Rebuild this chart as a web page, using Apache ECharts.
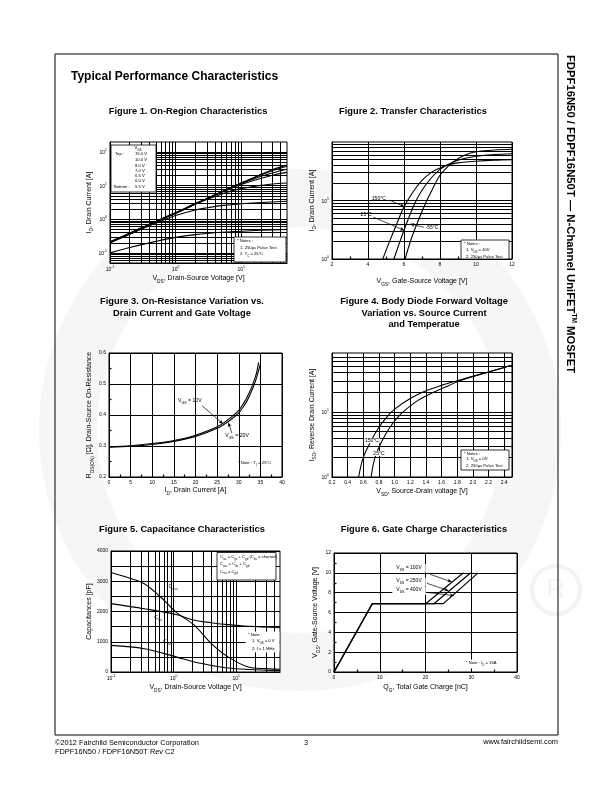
<!DOCTYPE html>
<html><head><meta charset="utf-8">
<script src="https://cdn.jsdelivr.net/npm/echarts@6/dist/echarts.min.js"></script>
<style>html,body{margin:0;padding:0;background:#fff}#c{width:612px;height:792px}</style>
</head><body><div id="c"></div>
<script>
// ---------- DATA ----------
// Figure 1: On-Region Characteristics (VDS [V], ID [A])
const f1_15V = [[0.1,0.21],[0.2,0.38],[0.3,0.55],[0.5,0.85],[0.7,1.15],[1,1.55],[2,2.9],[3,4.1],[5,6.5],[7,8.8],[10,12],[15,17],[20,22],[30,30],[50,41]];
const f1_10V = [[0.1,0.21],[0.2,0.38],[0.3,0.55],[0.5,0.85],[0.7,1.15],[1,1.55],[2,2.9],[3,4.1],[5,6.5],[7,8.8],[10,12],[15,16.5],[20,21],[30,28],[50,38]];
const f1_8V  = [[0.1,0.215],[0.2,0.39],[0.3,0.56],[0.5,0.86],[0.7,1.17],[1,1.58],[2,2.95],[3,4.15],[5,6.5],[7,8.7],[10,11.5],[15,15.5],[20,19],[30,24],[50,31]];
const f1_7V  = [[0.1,0.205],[0.2,0.37],[0.3,0.54],[0.5,0.84],[0.7,1.13],[1,1.52],[2,2.85],[3,4.05],[5,6.3],[7,8.2],[10,10.8],[15,14],[20,16.5],[30,20.5],[50,25]];
const f1_65V = [[0.1,0.2],[0.2,0.365],[0.3,0.53],[0.5,0.83],[0.7,1.12],[1,1.5],[2,2.8],[3,3.9],[5,5.6],[7,6.9],[10,8.2],[15,9.4],[20,10.2],[30,11.2],[50,12]];
const f1_6V  = [[0.1,0.2],[0.2,0.36],[0.5,0.78],[1,1.3],[2,1.9],[3,2.2],[5,2.55],[10,2.9],[20,3.15],[50,3.45]];
const f1_55V = [[0.1,0.1],[0.2,0.145],[0.5,0.22],[1,0.29],[2,0.35],[5,0.41],[10,0.44],[20,0.47],[50,0.5]];
const f1_legend = ['15.0 V','10.0 V','8.0 V','7.0 V','6.5 V','6.0 V','5.5 V'];

// Figure 2: Transfer Characteristics (VGS [V], ID [A])
const f2_150C = [[4.82,1],[5.2,2],[5.6,4],[6.0,7.8],[6.5,14],[7,22],[7.5,30],[8,36],[8.5,41],[9,44],[10,47],[11,49],[12,50]];
const f2_25C  = [[5.44,1],[5.8,2.1],[6.0,3.1],[6.2,4.5],[6.6,9],[7,15],[7.5,24],[8,34],[8.5,42],[9,49],[10,57],[11,61],[12,63]];
const f2_m55C = [[6.06,1],[6.4,2.2],[6.8,4.6],[7.2,9],[7.6,16],[8,27],[8.5,40],[9,52],[9.5,62],[10,68],[11,73],[12,75]];

// Figure 3: On-Resistance vs Drain Current (ID [A], RDS(on) [ohm])
const f3_10V = [[0,0.298],[5,0.301],[10,0.308],[15,0.318],[20,0.335],[25,0.362],[28,0.39],[30,0.415],[31,0.435],[32,0.46],[33,0.49],[34,0.53],[34.6,0.57]];
const f3_20V = [[0,0.296],[5,0.299],[10,0.305],[15,0.315],[20,0.331],[25,0.357],[28,0.383],[30,0.407],[31,0.425],[32,0.448],[33,0.478],[34,0.515],[35,0.565]];

// Figure 4: Body Diode Forward Voltage (VSD [V], ISD [A])
const f4_150C = [[0.54,1],[0.6,2],[0.7,3.6],[0.8,5.8],[0.9,8.3],[1.0,11],[1.2,16],[1.4,21],[1.6,25.5],[1.8,30],[2.0,35],[2.2,41],[2.4,48],[2.5,52]];
const f4_25C  = [[0.70,1],[0.75,2],[0.85,3.8],[0.95,6],[1.05,8.5],[1.15,11],[1.3,15],[1.5,20],[1.7,25.5],[1.8,29],[2.0,35],[2.2,41],[2.4,48],[2.5,52]];

// Figure 5: Capacitance (VDS [V], C [pF])
const f5_Coss = [[0.1,3290],[0.2,3100],[0.34,2920],[0.62,2480],[1.09,1980],[2.15,1540],[4,940],[7.4,500],[15.6,165],[30,110],[50,90]];
const f5_Ciss = [[0.1,2260],[0.34,2090],[1.09,1900],[2.15,1710],[4,1630],[7.4,1565],[15.6,1510],[50,1465]];
const f5_Crss = [[0.1,880],[0.34,770],[1.09,500],[2.15,330],[4,220],[7.4,130],[15.6,85],[50,45]];

// Figure 6: Gate Charge (QG [nC], VGS [V])
const f6_100V = [[0,0],[8.4,6.9],[20.1,6.9],[28.3,10]];
const f6_250V = [[0,0],[8.4,6.9],[21.9,6.9],[29.9,10]];
const f6_400V = [[0,0],[8.4,6.9],[23.9,6.9],[31.5,10]];

// ---------- HELPERS ----------
const F = '"Liberation Sans", Arial, Helvetica, sans-serif';
function richFor(sz){
  return {
    n:{fontSize:sz,fontFamily:F,lineHeight:sz*1.3,verticalAlign:'top',color:'#000'},
    s:{fontSize:sz*0.68,fontFamily:F,lineHeight:sz*0.68,verticalAlign:'bottom',color:'#000'},
    b:{fontSize:sz,fontFamily:F,lineHeight:sz*1.3,verticalAlign:'bottom',color:'#000'},
    p:{fontSize:sz*0.68,fontFamily:F,lineHeight:sz*0.68,verticalAlign:'top',color:'#000'}
  };
}
function powLabel(v){
  const e=Math.log10(v), r=Math.round(e);
  if(Math.abs(e-r)>1e-6) return '';
  return '{b|10}{p|'+r+'}';
}
function logLines(lo,hi){
  const out=[];
  for(let e=Math.floor(Math.log10(lo));e<=Math.ceil(Math.log10(hi));e++){
    for(let m=1;m<10;m++){const v=+(m*Math.pow(10,e)).toPrecision(6); if(v>lo*1.0001&&v<hi*0.9999) out.push(v);}
  }
  return out;
}
function gridML(xs,ys){
  return {silent:true,symbol:['none','none'],label:{show:false},emphasis:{disabled:true},animation:false,
    lineStyle:{color:'#000',width:1,type:'solid'},
    data:[...xs.map(v=>({xAxis:v})),...ys.map(v=>({yAxis:v}))]};
}
function ln(i,data,extra){
  return Object.assign({type:'line',xAxisIndex:i,yAxisIndex:i,data:data,symbol:'none',showSymbol:false,smooth:0.35,
    silent:true,animation:false,lineStyle:{color:'#000',width:1.1}},extra||{});
}
function ann(coord,text,sz,extra){
  return Object.assign({coord:coord,symbol:'circle',symbolSize:0,
    label:Object.assign({show:true,position:'inside',formatter:text,fontSize:sz,fontFamily:F,color:'#000',rich:richFor(sz)},extra||{})});
}
function arrowML(pairs){
  return {silent:true,symbol:['none','arrow'],symbolSize:[3,4],label:{show:false},animation:false,
    lineStyle:{color:'#000',width:0.7,type:'solid'},
    data:pairs.map(p=>[{coord:p[0]},{coord:p[1]}])};
}
function nm(base,sub,rest){ return '{n|'+base+'}'+(sub?'{s|'+sub+'}':'')+'{n|'+rest+'}'; }

const axBase = (gi)=>({gridIndex:gi,nameLocation:'middle',
  axisLine:{show:true,onZero:false,lineStyle:{color:'#000',width:1}},
  axisTick:{show:false,inside:true},splitLine:{show:false},
  axisLabel:{fontSize:5,color:'#000',fontFamily:F,margin:3,rich:richFor(5)},
  nameTextStyle:{fontSize:7,fontFamily:F,color:'#000',rich:richFor(7)}});
const split = {show:true,lineStyle:{color:'#000',width:1}};
const minor = {show:true,splitNumber:2,length:2.5,lineStyle:{color:'#000',width:1.2}};

const grids=[
 {left:110,top:142,width:177,height:121},
 {left:332,top:142,width:180,height:117},
 {left:109,top:353,width:173,height:124},
 {left:332,top:353,width:180,height:124},
 {left:111,top:551,width:169,height:121},
 {left:334,top:553,width:183,height:119}
].map(g=>Object.assign({show:true,borderColor:'#000',borderWidth:1,backgroundColor:'#fff'},g));

const xAxes=[
 Object.assign(axBase(0),{type:'log',min:0.1,max:50,name:nm('V','DS',', Drain-Source Voltage [V]'),nameGap:12}),
 Object.assign(axBase(1),{type:'value',min:2,max:12,interval:2,splitLine:split,minorTick:minor,name:nm('V','GS',', Gate-Source Voltage [V]'),nameGap:19}),
 Object.assign(axBase(2),{type:'value',min:0,max:40,interval:5,splitLine:split,minorTick:minor,name:nm('I','D',', Drain Current [A]'),nameGap:10}),
 Object.assign(axBase(3),{type:'value',min:0.2,max:2.5,interval:0.2,splitLine:split,name:nm('V','SD',', Source-Drain voltage [V]'),nameGap:11}),
 Object.assign(axBase(4),{type:'log',min:0.1,max:50,name:nm('V','DS',', Drain-Source Voltage [V]'),nameGap:12}),
 Object.assign(axBase(5),{type:'value',min:0,max:40,interval:10,splitLine:split,minorTick:minor,name:nm('Q','G',', Total Gate Charge [nC]'),nameGap:12})
];
xAxes[0].axisLabel.formatter=powLabel; xAxes[4].axisLabel.formatter=powLabel;
xAxes[3].axisLabel.formatter=v=>v.toFixed(1); xAxes[3].axisLabel.showMaxLabel=false;

const yAxes=[
 Object.assign(axBase(0),{type:'log',min:0.05,max:200,name:nm('I','D',', Drain Current [A]'),nameGap:15}),
 Object.assign(axBase(1),{type:'log',min:1,max:100,name:nm('I','D',', Drain Current [A]'),nameGap:12}),
 Object.assign(axBase(2),{type:'value',min:0.2,max:0.6,interval:0.1,splitLine:split,minorTick:minor,name:'{n|R}{s|DS(ON)}{n| [Ω], Drain-Source On-Resistance}',nameGap:10}),
 Object.assign(axBase(3),{type:'log',min:1,max:80,name:nm('I','SD',', Reverse Drain Current [A]'),nameGap:12}),
 Object.assign(axBase(4),{type:'value',min:0,max:4000,interval:500,splitLine:split,name:'{n|Capacitances [pF]}',nameGap:14}),
 Object.assign(axBase(5),{type:'value',min:0,max:12,interval:2,splitLine:split,minorTick:minor,name:nm('V','GS',', Gate-Source Voltage [V]'),nameGap:13})
];
yAxes[0].axisLabel.formatter=powLabel; yAxes[1].axisLabel.formatter=powLabel; yAxes[3].axisLabel.formatter=powLabel;
yAxes[1].axisLabel.showMaxLabel=false;
yAxes[2].axisLabel.formatter=v=>v.toFixed(1);
yAxes[4].axisLabel.formatter=v=>(Math.round(v)%1000===0?String(Math.round(v)):'');

// ---------- SERIES ----------
const boxLbl={backgroundColor:'#fff',padding:[1,4]};
const series=[
 ln(0,f1_15V,{markLine:gridML(logLines(0.1,50),logLines(0.05,200))}),
 ln(0,f1_10V), ln(0,f1_8V), ln(0,f1_7V), ln(0,f1_65V), ln(0,f1_6V), ln(0,f1_55V),

 ln(1,f2_150C,{markLine:gridML([],logLines(1,100))}),
 ln(1,f2_25C), ln(1,f2_m55C),
 {type:'line',xAxisIndex:1,yAxisIndex:1,data:[],silent:true,animation:false,
  markPoint:{silent:true,animation:false,data:[ann([4.6,10.6],'150°C',5),ann([3.9,5.8],'25°C',5),ann([7.55,3.45],'-55°C',5)]},
  markLine:arrowML([[[5.2,10.1],[6.0,7.9]],[[4.3,5.2],[6.0,3.1]],[[7.1,3.5],[6.35,3.95]]])},

 ln(2,f3_10V,{smooth:0.3}), ln(2,f3_20V,{smooth:0.3}),
 {type:'line',xAxisIndex:2,yAxisIndex:2,data:[],silent:true,animation:false,
  markPoint:{silent:true,animation:false,data:[ann([18.7,0.443],nm('V','GS',' = 10V'),5.2),ann([29.6,0.33],nm('V','GS',' = 20V'),5.2)]},
  markLine:arrowML([[[21.5,0.43],[26.3,0.372]],[[28.4,0.342],[27.6,0.375]]])},

 ln(3,f4_150C,{markLine:gridML([],logLines(1,80))}), ln(3,f4_25C),
 {type:'line',xAxisIndex:3,yAxisIndex:3,data:[],silent:true,animation:false,
  markPoint:{silent:true,animation:false,data:[ann([0.71,3.6],'150°C',5,{backgroundColor:'#fff',padding:[0,1]}),ann([0.8,2.3],'25°C',5,{backgroundColor:'#fff',padding:[0,1]})]}},

 ln(4,f5_Coss,{markLine:gridML(logLines(0.1,50),[])}), ln(4,f5_Ciss), ln(4,f5_Crss),
 {type:'line',xAxisIndex:4,yAxisIndex:4,data:[],silent:true,animation:false,
  markPoint:{silent:true,animation:false,data:[ann([0.98,2780],nm('C','oss',''),5.2),ann([0.57,1760],nm('C','iss',''),5.2),ann([0.79,970],nm('C','rss',''),5.2)]}},

 ln(5,f6_100V,{smooth:false,lineStyle:{color:'#000',width:1.2}}), ln(5,f6_250V,{smooth:false,lineStyle:{color:'#000',width:1.2}}), ln(5,f6_400V,{smooth:false,lineStyle:{color:'#000',width:1.2}}),
 {type:'line',xAxisIndex:5,yAxisIndex:5,data:[],silent:true,animation:false,
  markPoint:{silent:true,animation:false,data:[
    ann([16.4,10.45],nm('V','DS',' = 100V'),5,boxLbl),
    ann([16.4,9.1],nm('V','DS',' = 250V'),5,boxLbl),
    ann([16.4,8.2],nm('V','DS',' = 400V'),5,boxLbl)]},
  markLine:arrowML([[[21.0,9.85],[25.7,9.1]],[[20.3,8.95],[25.0,8.2]],[[19.9,8.05],[26.2,7.7]]])}
];

// ---------- PAGE GRAPHICS ----------
function T(x,y,text,sz,o){
  o=o||{};
  return {type:'text',x:x,y:y,rotation:o.rot||0,z:o.z||50,silent:true,
    style:{text:text,fill:o.fill||'#000',fontSize:sz,fontWeight:o.bold?'bold':'normal',fontFamily:F,
      align:o.align||'left',verticalAlign:o.va||'middle',rich:o.rich?richFor(sz):undefined}};
}
function box(x,y,w,h,stroke){
  return {type:'rect',z:45,silent:true,shape:{x:x,y:y,width:w,height:h},style:{fill:'#fff',stroke:stroke?'#000':'#fff',lineWidth:0.8}};
}
const gfx=[
 {type:'circle',z:-100,silent:true,shape:{cx:300,cy:430,r:232},style:{fill:'none',stroke:'#f6f6f6',lineWidth:58}},
 {type:'circle',z:-100,silent:true,shape:{cx:556,cy:590,r:24},style:{fill:'none',stroke:'#f3f3f3',lineWidth:4}},
 T(556,590,'R',26,{fill:'#f3f3f3',align:'center',z:-99}),
 {type:'rect',z:40,silent:true,shape:{x:55,y:54,width:503,height:681},style:{fill:'none',stroke:'#000',lineWidth:1}},
 T(71,77,'Typical Performance Characteristics',12,{bold:true}),
 T(188,111.5,'Figure 1. On-Region Characteristics',9.3,{bold:true,align:'center'}),
 T(413,111.5,'Figure 2. Transfer Characteristics',9.3,{bold:true,align:'center'}),
 T(182,301.5,'Figure 3. On-Resistance Variation vs.',9.3,{bold:true,align:'center'}),
 T(182,313,'Drain Current and Gate Voltage',9.3,{bold:true,align:'center'}),
 T(424,301.5,'Figure 4. Body Diode Forward Voltage',9.3,{bold:true,align:'center'}),
 T(424,313,'Variation vs. Source Current',9.3,{bold:true,align:'center'}),
 T(424,324.5,'and Temperatue',9.3,{bold:true,align:'center'}),
 T(182,529,'Figure 5. Capacitance Characteristics',9.3,{bold:true,align:'center'}),
 T(424,529,'Figure 6. Gate Charge Characteristics',9.3,{bold:true,align:'center'}),
 // sidebar
 {type:'text',x:571,y:214,rotation:-Math.PI/2,z:50,silent:true,
  style:{text:'{t|FDPF16N50 / FDPF16N50T — N-Channel UniFET}{m|TM}{t| MOSFET}',align:'center',verticalAlign:'middle',
   rich:{t:{fontSize:11.3,fontWeight:'bold',fontFamily:F,fill:'#000',lineHeight:13,verticalAlign:'bottom'},
         m:{fontSize:6.5,fontWeight:'bold',fontFamily:F,fill:'#000',lineHeight:7,verticalAlign:'top'}}}},
 // footer
 T(55,742.5,'©2012 Fairchild Semiconductor Corporation',7.4),
 T(55,751.5,'FDPF16N50 / FDPF16N50T Rev C2',7.4),
 T(306,742.5,'3',7.4,{align:'center'}),
 T(558,741.5,'www.fairchildsemi.com',7.4,{align:'right'}),
 // Fig1 legend
 box(111,145,45,47,true),
 T(138,148.5,'{n|V}{s|GS}',4.2,{rich:true,align:'center'}),
 T(115,154,'Top :',4.2),
 T(114,186.5,'Bottom :',4.2),
 // Fig1 notes
 box(234,237,52,25,true),
 T(237,240.5,'* Notes :',4.2),
 T(240,247.5,'1. 250μs Pulse Test',4.2),
 T(240,255,'{n|2. T}{s|C}{n| = 25°C}',4.2,{rich:true}),
 // Fig2 notes
 box(461,240,48,19,true),
 T(464,243.5,'* Notes :',4.2),
 T(466,250.5,'{n|1. V}{s|DS}{n| = 40V}',4.2,{rich:true}),
 T(466,256.5,'2. 250μs Pulse Test',4.2),
 // Fig3 note
 T(238,463.5,'{n|* Note : T}{s|J}{n| = 25°C}',4.2,{rich:true}),
 // Fig4 notes
 box(461,450,48,20,true),
 T(464,454,'* Notes :',4.2),
 T(466,459.5,'{n|1. V}{s|GS}{n| = 0V}',4.2,{rich:true}),
 T(466,465.5,'2. 250μs Pulse Test',4.2),
 // Fig5 legend
 box(217,552.5,59,27.5,true),
 T(220,557.5,'{n|C}{s|iss}{n| = C}{s|gs}{n| + C}{s|gd}{n| (C}{s|ds}{n| = shorted)}',4.2,{rich:true}),
 T(220,565,'{n|C}{s|oss}{n| = C}{s|ds}{n| + C}{s|gd}',4.2,{rich:true}),
 T(220,572.3,'{n|C}{s|rss}{n| = C}{s|gd}',4.2,{rich:true}),
 // Fig5 notes
 box(246,632,33,20,false),
 T(248,635,'* Note :',4.2),
 T(252,641.5,'{n|1. V}{s|GS}{n| = 0 V}',4.2,{rich:true}),
 T(252,648.5,'2. f = 1 MHz',4.2),
 // Fig6 note
 box(463,660,40,8,false),
 T(466,664,'{n|* Note : I}{s|D}{n| = 16A}',4.2,{rich:true})
];
f1_legend.forEach((t,i)=>{ gfx.push(T(135,[154,159.5,165.5,170.8,176,181.2,186.5][i],t,4.2)); });

const chart=echarts.init(document.getElementById('c'),null,{renderer:'canvas'});
chart.setOption({animation:false,backgroundColor:'#fff',grid:grids,xAxis:xAxes,yAxis:yAxes,series:series,graphic:{elements:gfx}});
</script></body></html>
